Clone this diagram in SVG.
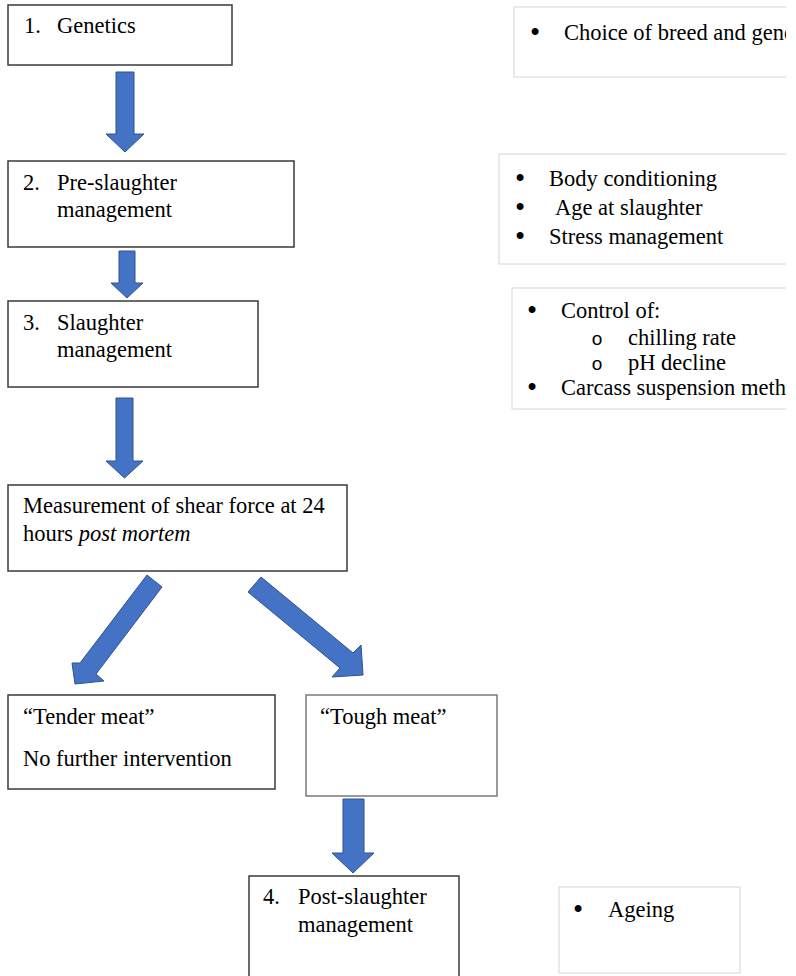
<svg xmlns="http://www.w3.org/2000/svg" width="796" height="976" viewBox="0 0 796 976">
<style>
.box{fill:#fff;stroke:#3a3a3a;stroke-width:1.5}
.box2{fill:#fff;stroke:#7a7a7a;stroke-width:1.5}
.side{fill:#fff;stroke:#d6d6d6;stroke-width:1}
.arr{fill:#4472C4;stroke:#2F528F;stroke-width:1}
text{font-family:"Liberation Serif","Times New Roman","DejaVu Serif",serif;font-size:22.5px;fill:#000}
.bul{text-anchor:middle;font-size:29px}
.sub{font-family:"Liberation Sans",Arial,sans-serif;font-size:19px;text-anchor:middle}
</style>
<defs>
<clipPath id="clip"><rect x="0" y="0" width="786" height="976"/></clipPath>
</defs>
<rect x="0" y="0" width="796" height="976" fill="#fff"/>
<g id="connectors">
<polygon class="arr" points="116,72 134,72 134,134 144,134 125,152 106,134 116,134"/>
<polygon class="arr" points="119,251 135,251 135,283 143,283 127,298 111,283 119,283"/>
<polygon class="arr" points="116,398 133,398 133,461 143,461 124.5,478 106,461 116,461"/>
<polygon class="arr" points="147,575 162,587 96,674 104,681 75,684 72,663 80,663"/>
<polygon class="arr" points="261,577 353,653 361,645 363,675 332,677 340,668 248,592"/>
<polygon class="arr" points="343,799 364,799 364,853 374,853 353,873 332,853 343,853"/>
</g>
<g id="n1">
<rect class="box" x="8" y="5" width="224" height="60"/>
<text x="24" y="33">1.</text><text x="57" y="33">Genetics</text>
</g>
<g id="n2">
<rect class="box" x="8" y="161" width="286" height="86"/>
<text x="23" y="190">2.</text><text x="57" y="190">Pre-slaughter</text>
<text x="57" y="217">management</text>
</g>
<g id="n3">
<rect class="box" x="8" y="301" width="250" height="86"/>
<text x="23" y="330">3.</text><text x="57" y="330">Slaughter</text>
<text x="57" y="357">management</text>
</g>
<g id="n_measure">
<rect class="box" x="8" y="485" width="339" height="86"/>
<text x="23" y="513">Measurement of shear force at 24</text>
<text x="23" y="541">hours <tspan font-style="italic">post mortem</tspan></text>
</g>
<g id="n_tender">
<rect class="box" x="8" y="695" width="267" height="94"/>
<text x="23" y="724">“Tender meat”</text>
<text x="23" y="766">No further intervention</text>
</g>
<g id="n_tough">
<rect class="box2" x="306" y="695" width="191" height="101"/>
<text x="320" y="724">“Tough meat”</text>
</g>
<g id="n4">
<rect class="box" x="249" y="876" width="210" height="110"/>
<text x="263" y="904">4.</text><text x="298" y="904">Post-slaughter</text>
<text x="298" y="932">management</text>
</g>
<g id="side_genetics" clip-path="url(#clip)">
<rect class="side" x="514" y="7" width="300" height="70"/>
<text class="bul" x="535" y="42">•</text>
<text x="564" y="40">Choice of breed and genetics</text>
</g>
<g id="side_preslaughter" clip-path="url(#clip)">
<rect class="side" x="499" y="154" width="320" height="110"/>
<text class="bul" x="520" y="188">•</text><text x="549" y="186">Body conditioning</text>
<text class="bul" x="520" y="217">•</text><text x="555" y="215">Age at slaughter</text>
<text class="bul" x="520" y="246">•</text><text x="549" y="244">Stress management</text>
</g>
<g id="side_slaughter" clip-path="url(#clip)">
<rect class="side" x="512" y="288" width="310" height="121"/>
<text class="bul" x="532" y="320">•</text><text x="561" y="318">Control of:</text>
<text class="sub" x="597" y="345">o</text><text x="628" y="345">chilling rate</text>
<text class="sub" x="597" y="370">o</text><text x="628" y="370">pH decline</text>
<text class="bul" x="532" y="397">•</text><text x="561" y="395">Carcass suspension method</text>
</g>
<g id="side_post">
<rect class="side" x="559" y="887" width="181" height="86"/>
<text class="bul" x="578" y="919">•</text><text x="608" y="917">Ageing</text>
</g>
</svg>
